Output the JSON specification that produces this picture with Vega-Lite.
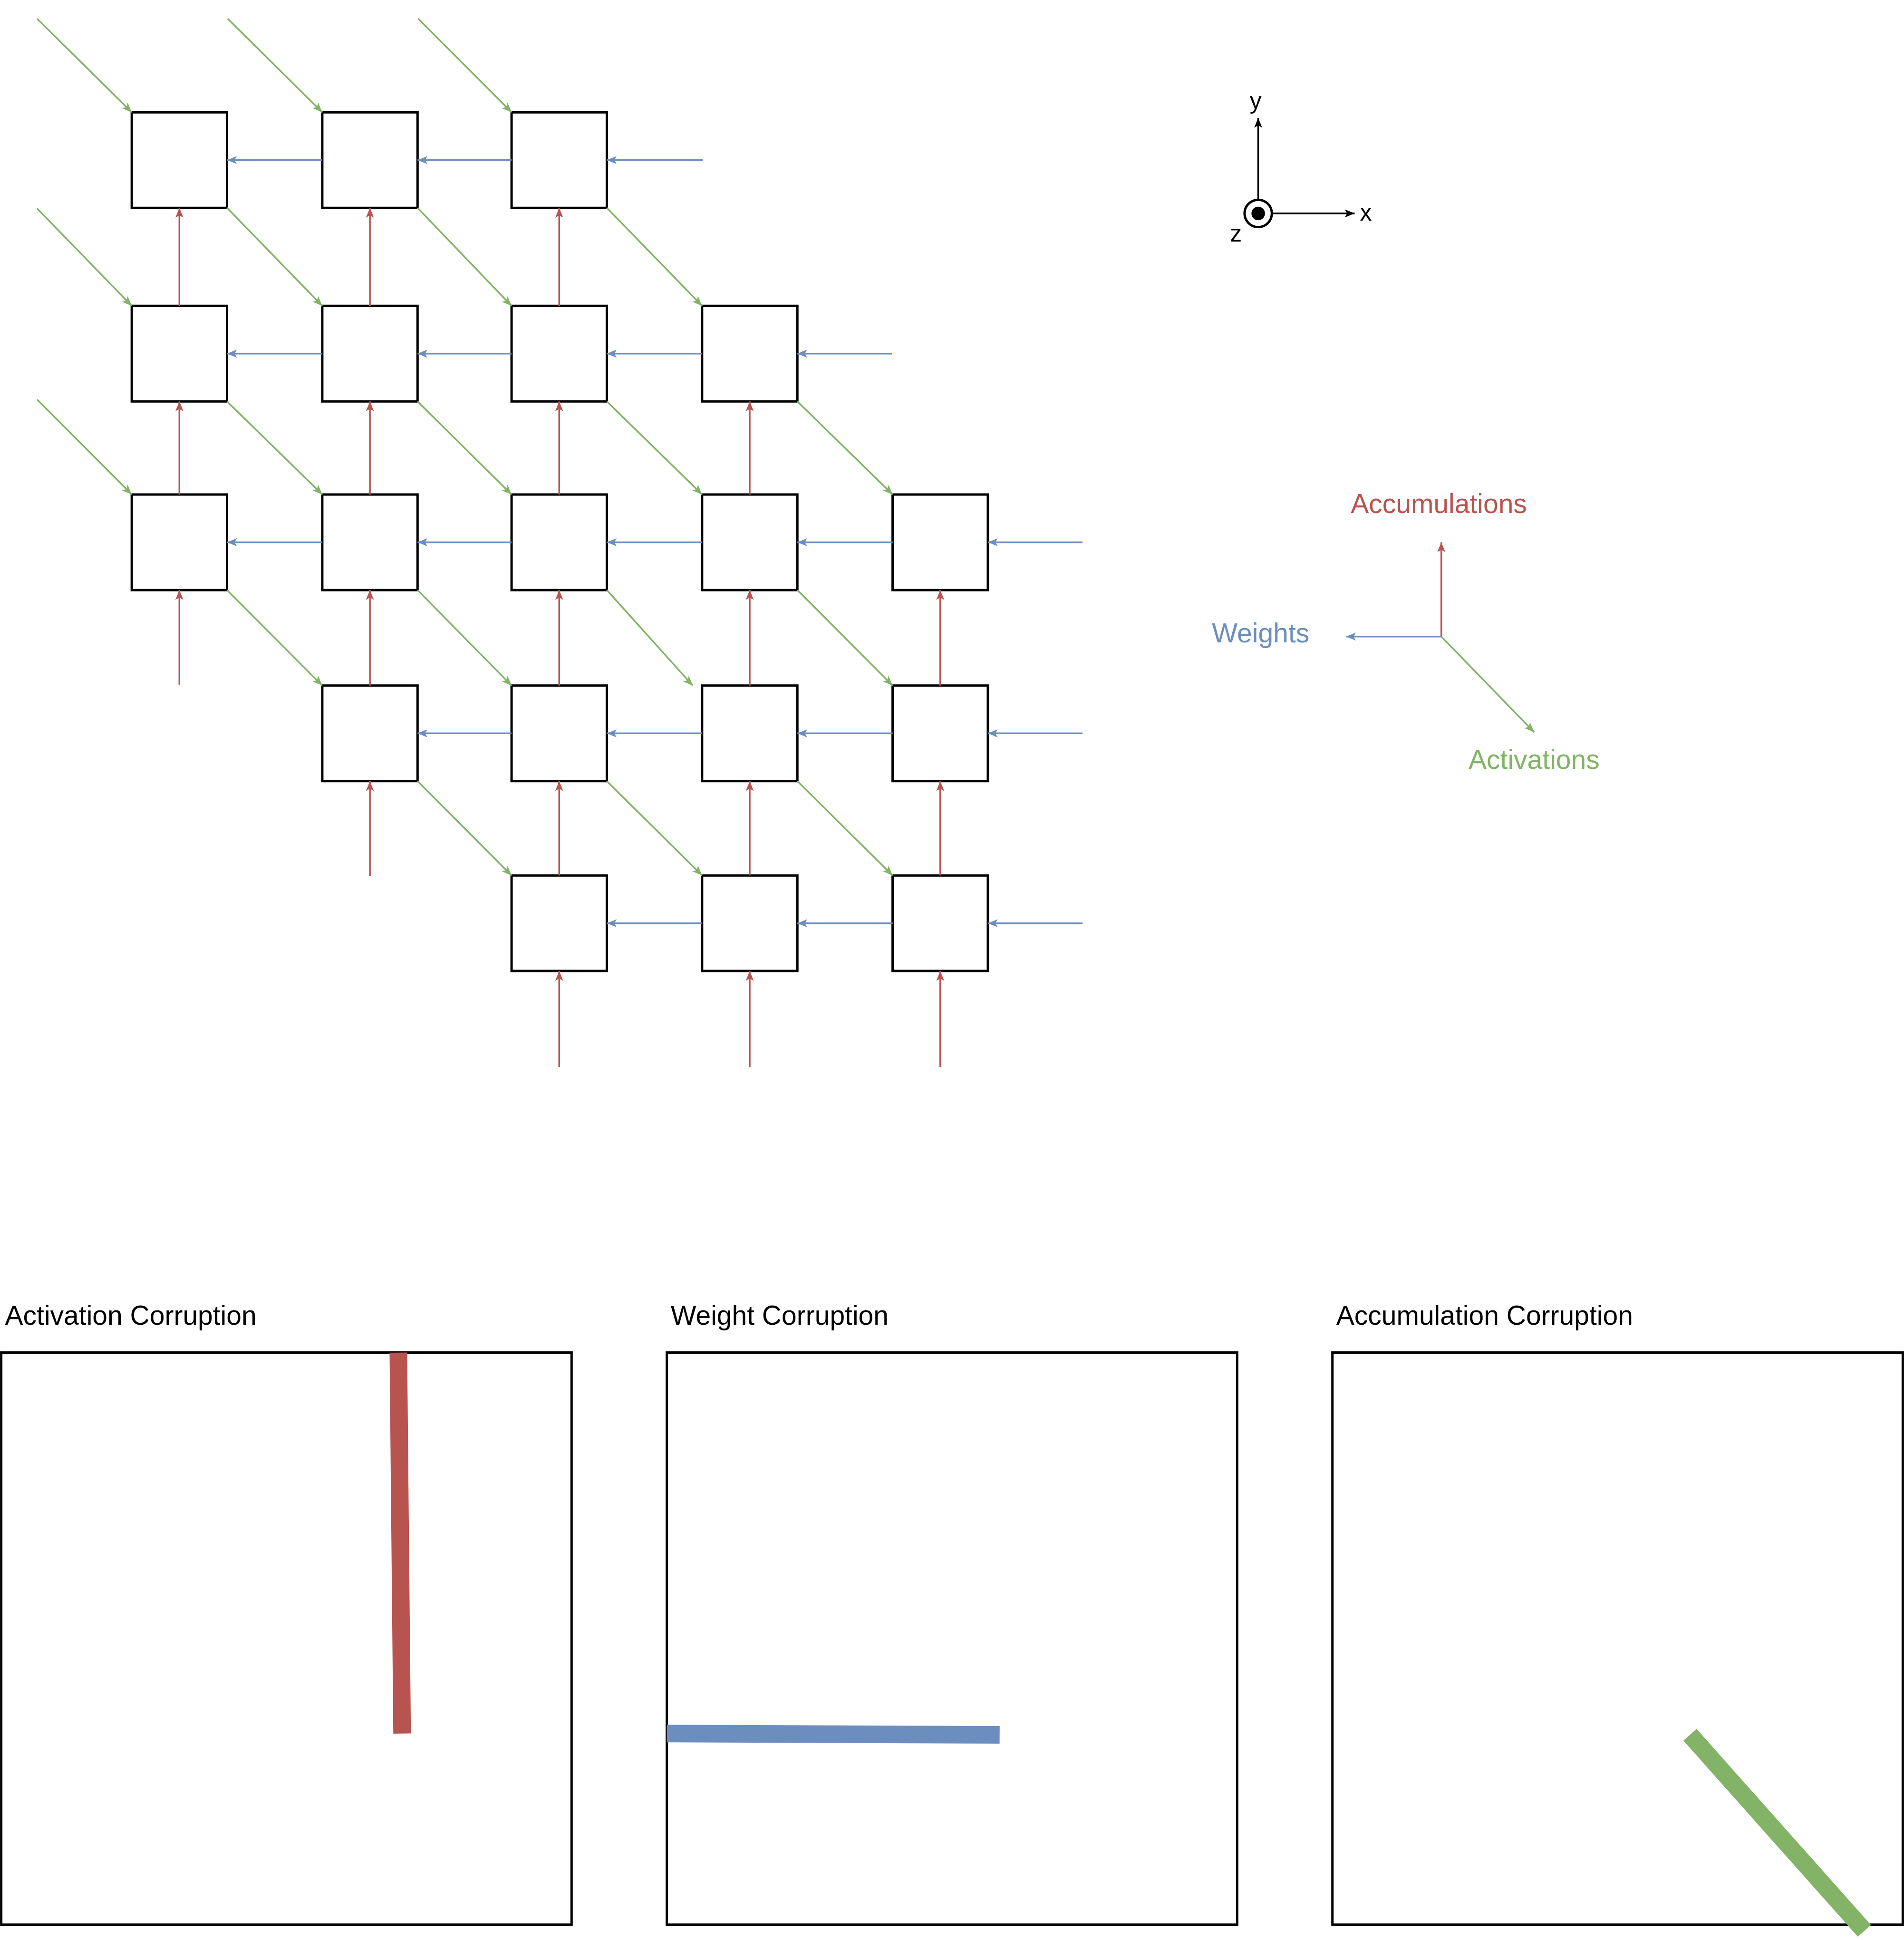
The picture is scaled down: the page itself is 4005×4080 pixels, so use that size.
{
  "$schema": "https://vega.github.io/schema/vega-lite/v6.json",
  "width": 4005,
  "height": 4080,
  "padding": 0,
  "autosize": {"type": "fit", "contains": "padding"},
  "background": "white",
  "config": {"view": {"stroke": null}},
  "datasets": {
    "boxes": [
      {"x": 106.5, "y": 90.5}, {"x": 260.5, "y": 90.5}, {"x": 413.5, "y": 90.5},
      {"x": 106.5, "y": 246.5}, {"x": 260.5, "y": 246.5}, {"x": 413.5, "y": 246.5}, {"x": 567.5, "y": 246.5},
      {"x": 106.5, "y": 398.5}, {"x": 260.5, "y": 398.5}, {"x": 413.5, "y": 398.5}, {"x": 567.5, "y": 398.5}, {"x": 721.5, "y": 398.5},
      {"x": 260.5, "y": 552.5}, {"x": 413.5, "y": 552.5}, {"x": 567.5, "y": 552.5}, {"x": 721.5, "y": 552.5},
      {"x": 413.5, "y": 705.5}, {"x": 567.5, "y": 705.5}, {"x": 721.5, "y": 705.5}
    ],
    "arrows": [
      {"kind": "w", "angle": 270, "x": 260.5, "y": 129, "x2": 183.5, "y2": 129},
      {"kind": "w", "angle": 270, "x": 413.5, "y": 129, "x2": 337.5, "y2": 129},
      {"kind": "w", "angle": 270, "x": 568, "y": 129, "x2": 490.5, "y2": 129},
      {"kind": "w", "angle": 270, "x": 260.5, "y": 285, "x2": 183.5, "y2": 285},
      {"kind": "w", "angle": 270, "x": 413.5, "y": 285, "x2": 337.5, "y2": 285},
      {"kind": "w", "angle": 270, "x": 567.5, "y": 285, "x2": 490.5, "y2": 285},
      {"kind": "w", "angle": 270, "x": 721, "y": 285, "x2": 644.5, "y2": 285},
      {"kind": "w", "angle": 270, "x": 260.5, "y": 437, "x2": 183.5, "y2": 437},
      {"kind": "w", "angle": 270, "x": 413.5, "y": 437, "x2": 337.5, "y2": 437},
      {"kind": "w", "angle": 270, "x": 567.5, "y": 437, "x2": 490.5, "y2": 437},
      {"kind": "w", "angle": 270, "x": 721.5, "y": 437, "x2": 644.5, "y2": 437},
      {"kind": "w", "angle": 270, "x": 875, "y": 437, "x2": 798.5, "y2": 437},
      {"kind": "w", "angle": 270, "x": 413.5, "y": 591, "x2": 337.5, "y2": 591},
      {"kind": "w", "angle": 270, "x": 567.5, "y": 591, "x2": 490.5, "y2": 591},
      {"kind": "w", "angle": 270, "x": 721.5, "y": 591, "x2": 644.5, "y2": 591},
      {"kind": "w", "angle": 270, "x": 875, "y": 591, "x2": 798.5, "y2": 591},
      {"kind": "w", "angle": 270, "x": 567.5, "y": 744, "x2": 490.5, "y2": 744},
      {"kind": "w", "angle": 270, "x": 721.5, "y": 744, "x2": 644.5, "y2": 744},
      {"kind": "w", "angle": 270, "x": 875, "y": 744, "x2": 798.5, "y2": 744},
      {"kind": "acc", "angle": 0, "x": 145, "y": 246.5, "x2": 145, "y2": 167.5},
      {"kind": "acc", "angle": 0, "x": 145, "y": 398.5, "x2": 145, "y2": 323.5},
      {"kind": "acc", "angle": 0, "x": 145, "y": 552, "x2": 145, "y2": 475.5},
      {"kind": "acc", "angle": 0, "x": 299, "y": 246.5, "x2": 299, "y2": 167.5},
      {"kind": "acc", "angle": 0, "x": 299, "y": 398.5, "x2": 299, "y2": 323.5},
      {"kind": "acc", "angle": 0, "x": 299, "y": 552.5, "x2": 299, "y2": 475.5},
      {"kind": "acc", "angle": 0, "x": 299, "y": 706, "x2": 299, "y2": 629.5},
      {"kind": "acc", "angle": 0, "x": 452, "y": 246.5, "x2": 452, "y2": 167.5},
      {"kind": "acc", "angle": 0, "x": 452, "y": 398.5, "x2": 452, "y2": 323.5},
      {"kind": "acc", "angle": 0, "x": 452, "y": 552.5, "x2": 452, "y2": 475.5},
      {"kind": "acc", "angle": 0, "x": 452, "y": 705.5, "x2": 452, "y2": 629.5},
      {"kind": "acc", "angle": 0, "x": 452, "y": 860, "x2": 452, "y2": 782.5},
      {"kind": "acc", "angle": 0, "x": 606, "y": 398.5, "x2": 606, "y2": 323.5},
      {"kind": "acc", "angle": 0, "x": 606, "y": 552.5, "x2": 606, "y2": 475.5},
      {"kind": "acc", "angle": 0, "x": 606, "y": 705.5, "x2": 606, "y2": 629.5},
      {"kind": "acc", "angle": 0, "x": 606, "y": 860, "x2": 606, "y2": 782.5},
      {"kind": "acc", "angle": 0, "x": 760, "y": 552.5, "x2": 760, "y2": 475.5},
      {"kind": "acc", "angle": 0, "x": 760, "y": 705.5, "x2": 760, "y2": 629.5},
      {"kind": "acc", "angle": 0, "x": 760, "y": 860, "x2": 760, "y2": 782.5},
      {"kind": "act", "angle": 135, "x": 30, "y": 15, "x2": 106.5, "y2": 90.5},
      {"kind": "act", "angle": 135, "x": 184, "y": 15, "x2": 260.5, "y2": 90.5},
      {"kind": "act", "angle": 135, "x": 338, "y": 15, "x2": 413.5, "y2": 90.5},
      {"kind": "act", "angle": 135, "x": 30, "y": 168, "x2": 106.5, "y2": 246.5},
      {"kind": "act", "angle": 135, "x": 30, "y": 322, "x2": 106.5, "y2": 398.5},
      {"kind": "act", "angle": 135, "x": 183.5, "y": 167.5, "x2": 260.5, "y2": 246.5},
      {"kind": "act", "angle": 135, "x": 337.5, "y": 167.5, "x2": 413.5, "y2": 246.5},
      {"kind": "act", "angle": 135, "x": 490.5, "y": 167.5, "x2": 567.5, "y2": 246.5},
      {"kind": "act", "angle": 135, "x": 183.5, "y": 323.5, "x2": 260.5, "y2": 398.5},
      {"kind": "act", "angle": 135, "x": 337.5, "y": 323.5, "x2": 413.5, "y2": 398.5},
      {"kind": "act", "angle": 135, "x": 490.5, "y": 323.5, "x2": 567.5, "y2": 398.5},
      {"kind": "act", "angle": 135, "x": 644.5, "y": 323.5, "x2": 721.5, "y2": 398.5},
      {"kind": "act", "angle": 135, "x": 183.5, "y": 475.5, "x2": 260.5, "y2": 552.5},
      {"kind": "act", "angle": 135, "x": 337.5, "y": 475.5, "x2": 413.5, "y2": 552.5},
      {"kind": "act", "angle": 135, "x": 490.5, "y": 475.5, "x2": 560, "y2": 552.5},
      {"kind": "act", "angle": 135, "x": 644.5, "y": 475.5, "x2": 721.5, "y2": 552.5},
      {"kind": "act", "angle": 135, "x": 337.5, "y": 629.5, "x2": 413.5, "y2": 705.5},
      {"kind": "act", "angle": 135, "x": 490.5, "y": 629.5, "x2": 567.5, "y2": 705.5},
      {"kind": "act", "angle": 135, "x": 644.5, "y": 629.5, "x2": 721.5, "y2": 705.5},
      {"kind": "acc", "angle": 0, "x": 1165, "y": 513, "x2": 1165, "y2": 437},
      {"kind": "w", "angle": 270, "x": 1165, "y": 513, "x2": 1088, "y2": 513},
      {"kind": "act", "angle": 135, "x": 1165, "y": 513, "x2": 1240, "y2": 590},
      {"kind": "k", "angle": 0, "x": 1017, "y": 161, "x2": 1017, "y2": 95},
      {"kind": "k", "angle": 90, "x": 1028, "y": 172, "x2": 1095, "y2": 172}
    ],
    "panels": [
      {"x": 1, "y": 1090, "x2": 462, "y2": 1551, "title": "Activation Corruption"},
      {"x": 539, "y": 1090, "x2": 1000, "y2": 1551, "title": "Weight Corruption"},
      {"x": 1077, "y": 1090, "x2": 1538, "y2": 1551, "title": "Accumulation Corruption"}
    ],
    "bars": [
      {"kind": "acc", "x": 322, "y": 1090, "x2": 325, "y2": 1397},
      {"kind": "w", "x": 539, "y": 1397, "x2": 808, "y2": 1398},
      {"kind": "act", "x": 1366, "y": 1398, "x2": 1507, "y2": 1556}
    ],
    "labels": [
      {"kind": "acc", "x": 1163, "y": 407, "text": "Accumulations", "size": 57},
      {"kind": "w", "x": 1019, "y": 511, "text": "Weights", "size": 57},
      {"kind": "act", "x": 1240, "y": 613, "text": "Activations", "size": 57},
      {"kind": "k", "x": 1015, "y": 82, "text": "y", "size": 50},
      {"kind": "k", "x": 1104, "y": 172, "text": "x", "size": 50},
      {"kind": "k", "x": 999, "y": 189, "text": "z", "size": 50}
    ],
    "circles": [
      {"x": 1017, "y": 172, "fill": "n", "size": 3300},
      {"x": 1017, "y": 172, "fill": "y", "size": 550}
    ]
  },
  "layer": [
    {
      "data": {"name": "boxes"},
      "mark": {"type": "rect", "fill": "white", "stroke": "black", "strokeWidth": 5},
      "transform": [{"calculate": "datum.x + 77", "as": "xe"}, {"calculate": "datum.y + 77", "as": "ye"}],
      "encoding": {
        "x": {"field": "x", "type": "quantitative", "scale": {"domain": [0, 1539], "nice": false, "zero": false}, "axis": null},
        "y": {"field": "y", "type": "quantitative", "scale": {"domain": [0, 1563], "nice": false, "zero": false, "reverse": true}, "axis": null},
        "x2": {"field": "xe"},
        "y2": {"field": "ye"}
      }
    },
    {
      "data": {"name": "panels"},
      "mark": {"type": "rect", "fill": null, "stroke": "black", "strokeWidth": 5},
      "encoding": {
        "x": {"field": "x", "type": "quantitative"},
        "y": {"field": "y", "type": "quantitative"},
        "x2": {"field": "x2"},
        "y2": {"field": "y2"}
      }
    },
    {
      "data": {"name": "panels"},
      "mark": {"type": "text", "align": "left", "baseline": "middle", "font": "Liberation Sans", "fontSize": 57, "color": "black", "dx": 8},
      "encoding": {
        "x": {"field": "x", "type": "quantitative"},
        "y": {"datum": 1061, "type": "quantitative"},
        "text": {"field": "title"}
      }
    },
    {
      "data": {"name": "bars"},
      "mark": {"type": "rule", "strokeWidth": 37, "strokeCap": "butt"},
      "encoding": {
        "x": {"field": "x", "type": "quantitative"},
        "y": {"field": "y", "type": "quantitative"},
        "x2": {"field": "x2"},
        "y2": {"field": "y2"},
        "color": {"field": "kind", "type": "nominal", "scale": {"domain": ["acc", "w", "act", "k"], "range": ["#b85450", "#6c8ebf", "#82b366", "#000000"]}, "legend": null}
      }
    },
    {
      "data": {"name": "arrows"},
      "mark": {"type": "rule", "strokeWidth": 3.5},
      "encoding": {
        "x": {"field": "x", "type": "quantitative"},
        "y": {"field": "y", "type": "quantitative"},
        "x2": {"field": "x2"},
        "y2": {"field": "y2"},
        "color": {"field": "kind", "type": "nominal", "legend": null}
      }
    },
    {
      "data": {"name": "arrows"},
      "mark": {"type": "point", "shape": "M0,0L-0.45,1.1L0,0.85L0.45,1.1Z", "filled": true, "opacity": 1, "size": 1400},
      "encoding": {
        "x": {"field": "x2", "type": "quantitative"},
        "y": {"field": "y2", "type": "quantitative"},
        "angle": {"field": "angle", "type": "quantitative", "scale": null},
        "color": {"field": "kind", "type": "nominal", "legend": null}
      }
    },
    {
      "data": {"name": "circles"},
      "mark": {"type": "point", "shape": "circle", "opacity": 1, "strokeWidth": 5, "color": "black"},
      "encoding": {
        "x": {"field": "x", "type": "quantitative"},
        "y": {"field": "y", "type": "quantitative"},
        "size": {"field": "size", "type": "quantitative", "scale": null},
        "fill": {"field": "fill", "type": "nominal", "scale": {"domain": ["n", "y"], "range": ["white", "black"]}, "legend": null}
      }
    },
    {
      "data": {"name": "labels"},
      "mark": {"type": "text", "align": "center", "baseline": "middle", "font": "Liberation Sans"},
      "encoding": {
        "x": {"field": "x", "type": "quantitative"},
        "y": {"field": "y", "type": "quantitative"},
        "text": {"field": "text"},
        "size": {"field": "size", "type": "quantitative", "scale": null},
        "color": {"field": "kind", "type": "nominal", "legend": null}
      }
    }
  ]
}
